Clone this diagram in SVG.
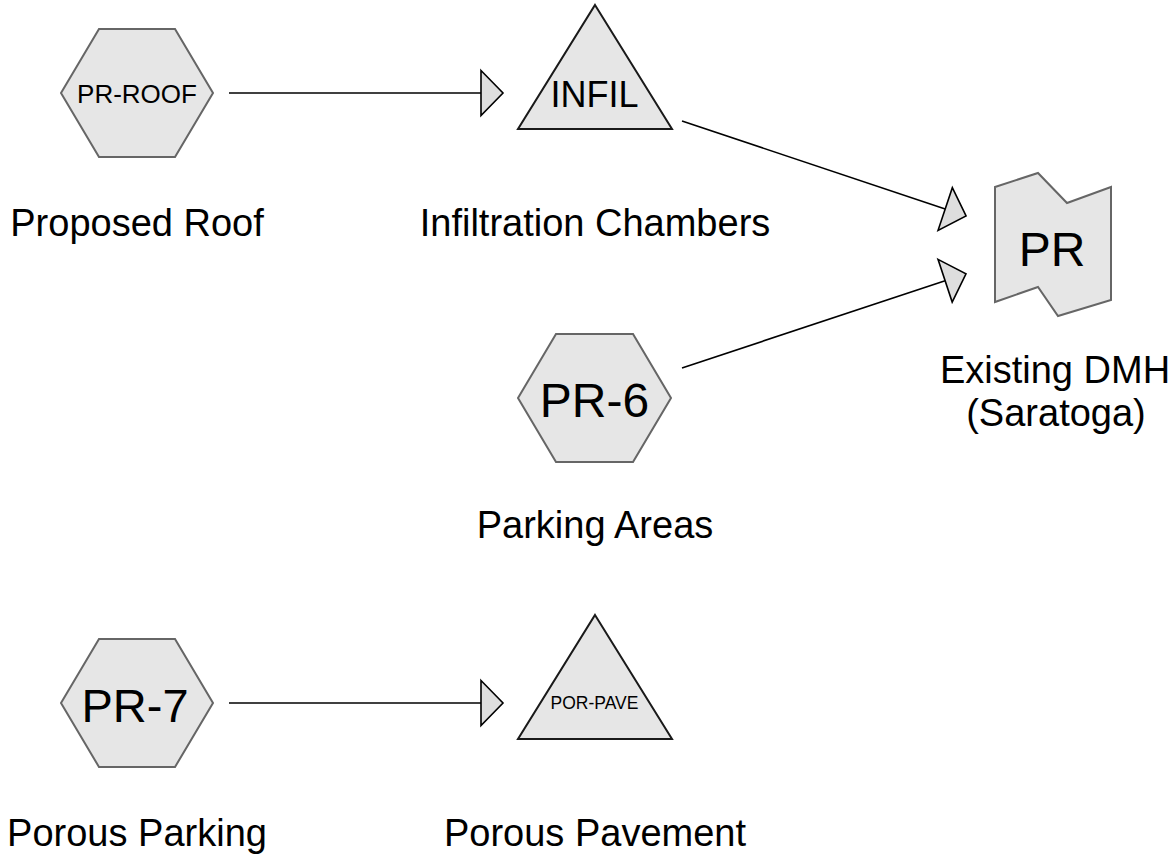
<svg xmlns="http://www.w3.org/2000/svg" width="1174" height="854" viewBox="0 0 1174 854">
  <style>
    .hex { fill: #e6e6e6; stroke: #666666; stroke-width: 2; }
    .tri { fill: #e6e6e6; stroke: #1a1a1a; stroke-width: 2; }
    .doc { fill: #e6e6e6; stroke: #666666; stroke-width: 2; }
    .lbl { font-family: "Liberation Sans", Arial, sans-serif; fill: #000000; text-anchor: middle; }
    .edge { fill: none; stroke: #000000; stroke-width: 1.6; }
  </style>
  <defs>
    <marker id="arr" markerUnits="userSpaceOnUse" viewBox="-2 -2 26 49" refX="0" refY="22.5" markerWidth="26" markerHeight="49" orient="auto" overflow="visible">
      <path d="M0,0 L22,22.5 L0,45 Z" fill="#dedede" stroke="#000000" stroke-width="1.6" stroke-linejoin="miter"/>
    </marker>
  </defs>
  <rect width="1174" height="854" fill="#ffffff"/>

  <g id="connectors">
    <line class="edge" x1="229" y1="93" x2="481" y2="93" marker-end="url(#arr)"/>
    <line class="edge" x1="682" y1="121" x2="945.2" y2="209" marker-end="url(#arr)"/>
    <line class="edge" x1="682" y1="368" x2="945.1" y2="280.7" marker-end="url(#arr)"/>
    <line class="edge" x1="229" y1="703" x2="481" y2="703" marker-end="url(#arr)"/>
  </g>

  <g id="node-pr-roof">
    <polygon class="hex" points="61,93 99,29 175,29 213,93 175,157 99,157"/>
    <text class="lbl" x="137" y="102.5" font-size="26">PR-ROOF</text>
    <text class="lbl" x="137" y="236" font-size="38">Proposed Roof</text>
  </g>

  <g id="node-infil">
    <polygon class="tri" points="595,5 672,129 518,129"/>
    <text class="lbl" x="594.5" y="106.5" font-size="36">INFIL</text>
    <text class="lbl" x="595" y="236" font-size="38">Infiltration Chambers</text>
  </g>

  <g id="node-dmh">
    <polygon class="doc" points="995,187 1038,173 1067,203 1111,187 1111,300 1058,316 1038,287 995,302"/>
    <text class="lbl" x="1052" y="266" font-size="48">PR</text>
    <text class="lbl" x="1055" y="383" font-size="38">Existing DMH</text>
    <text class="lbl" x="1056" y="426" font-size="38">(Saratoga)</text>
  </g>

  <g id="node-pr-6">
    <polygon class="hex" points="518,398 556,334 633,334 671,398 633,462 556,462"/>
    <text class="lbl" x="594.5" y="416.5" font-size="48">PR-6</text>
    <text class="lbl" x="595" y="538" font-size="38">Parking Areas</text>
  </g>

  <g id="node-pr-7">
    <polygon class="hex" points="61,703 99,639 175,639 213,703 175,767 99,767"/>
    <text class="lbl" x="135" y="722" font-size="47">PR-7</text>
    <text class="lbl" x="137" y="846" font-size="38">Porous Parking</text>
  </g>

  <g id="node-por-pave">
    <polygon class="tri" points="595,615 672,739 518,739"/>
    <text class="lbl" x="594.5" y="709" font-size="17.5">POR-PAVE</text>
    <text class="lbl" x="595" y="846" font-size="38">Porous Pavement</text>
  </g>
</svg>
